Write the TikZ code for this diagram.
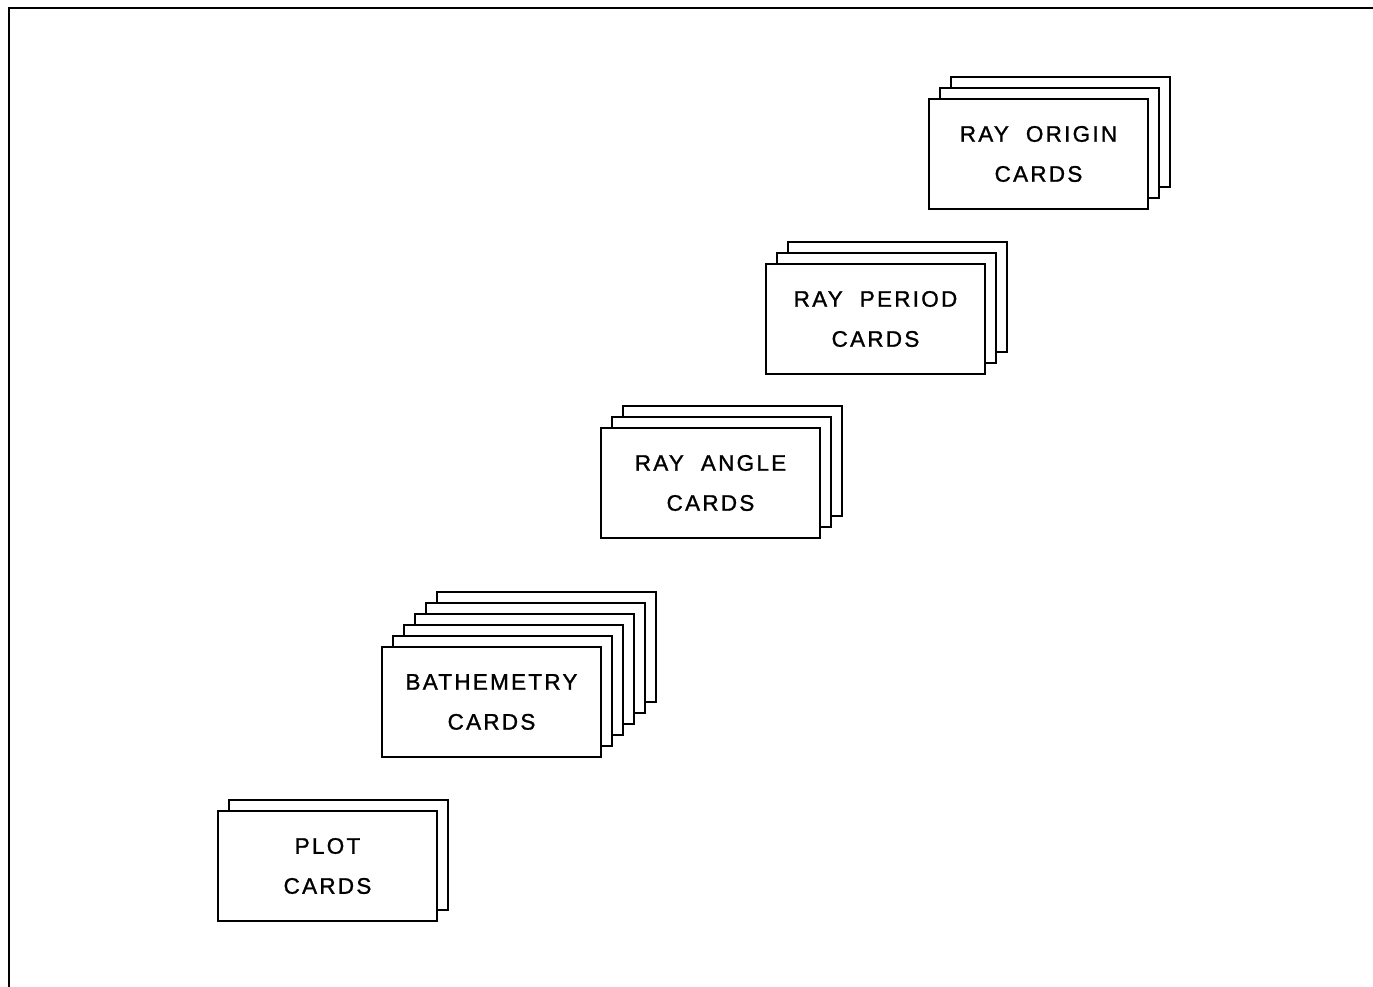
\documentclass[tikz,border=0pt]{standalone}
\usepackage{fontspec}
\setmainfont{Liberation Sans}[LetterSpace=10,FakeBold=1.2,WordSpace=2]
\tikzset{
  card/.style={draw,fill=white,line width=2.2pt,minimum width=219pt,minimum height=110pt,
    anchor=north west,inner sep=0pt,outer sep=0pt,
    font=\fontsize{22.5}{40}\selectfont,align=center},
  frameline/.style={line width=2.2pt}
}
\begin{document}
\begin{tikzpicture}[x=1pt,y=-1pt]
\useasboundingbox (0,0) rectangle (1373,987);
% frame
\coordinate (fbl) at (9,987);
\coordinate (ftl) at (9,8);
\coordinate (ftr) at (1373,8);
\draw[frameline] (fbl) -- (ftl) -- (ftr);
% stacks: name/x/y/number of back cards/text
\foreach \nm/\x/\y/\n/\t in {
  origin/929/99/2/{RAY ORIGIN\\CARDS},
  period/766/264/2/{RAY PERIOD\\CARDS},
  angle/601/428/2/{RAY ANGLE\\CARDS},
  bath/382/647/5/{BATHEMETRY\\CARDS},
  plot/218/811/1/{PLOT\\CARDS}}{
  \foreach \i in {\n,...,1}{
    \node[card] (\nm\i) at (\x+11*\i,\y-11*\i) {};
  }
  \node[card] (\nm) at (\x,\y) {\t};
}
\end{tikzpicture}
\end{document}
